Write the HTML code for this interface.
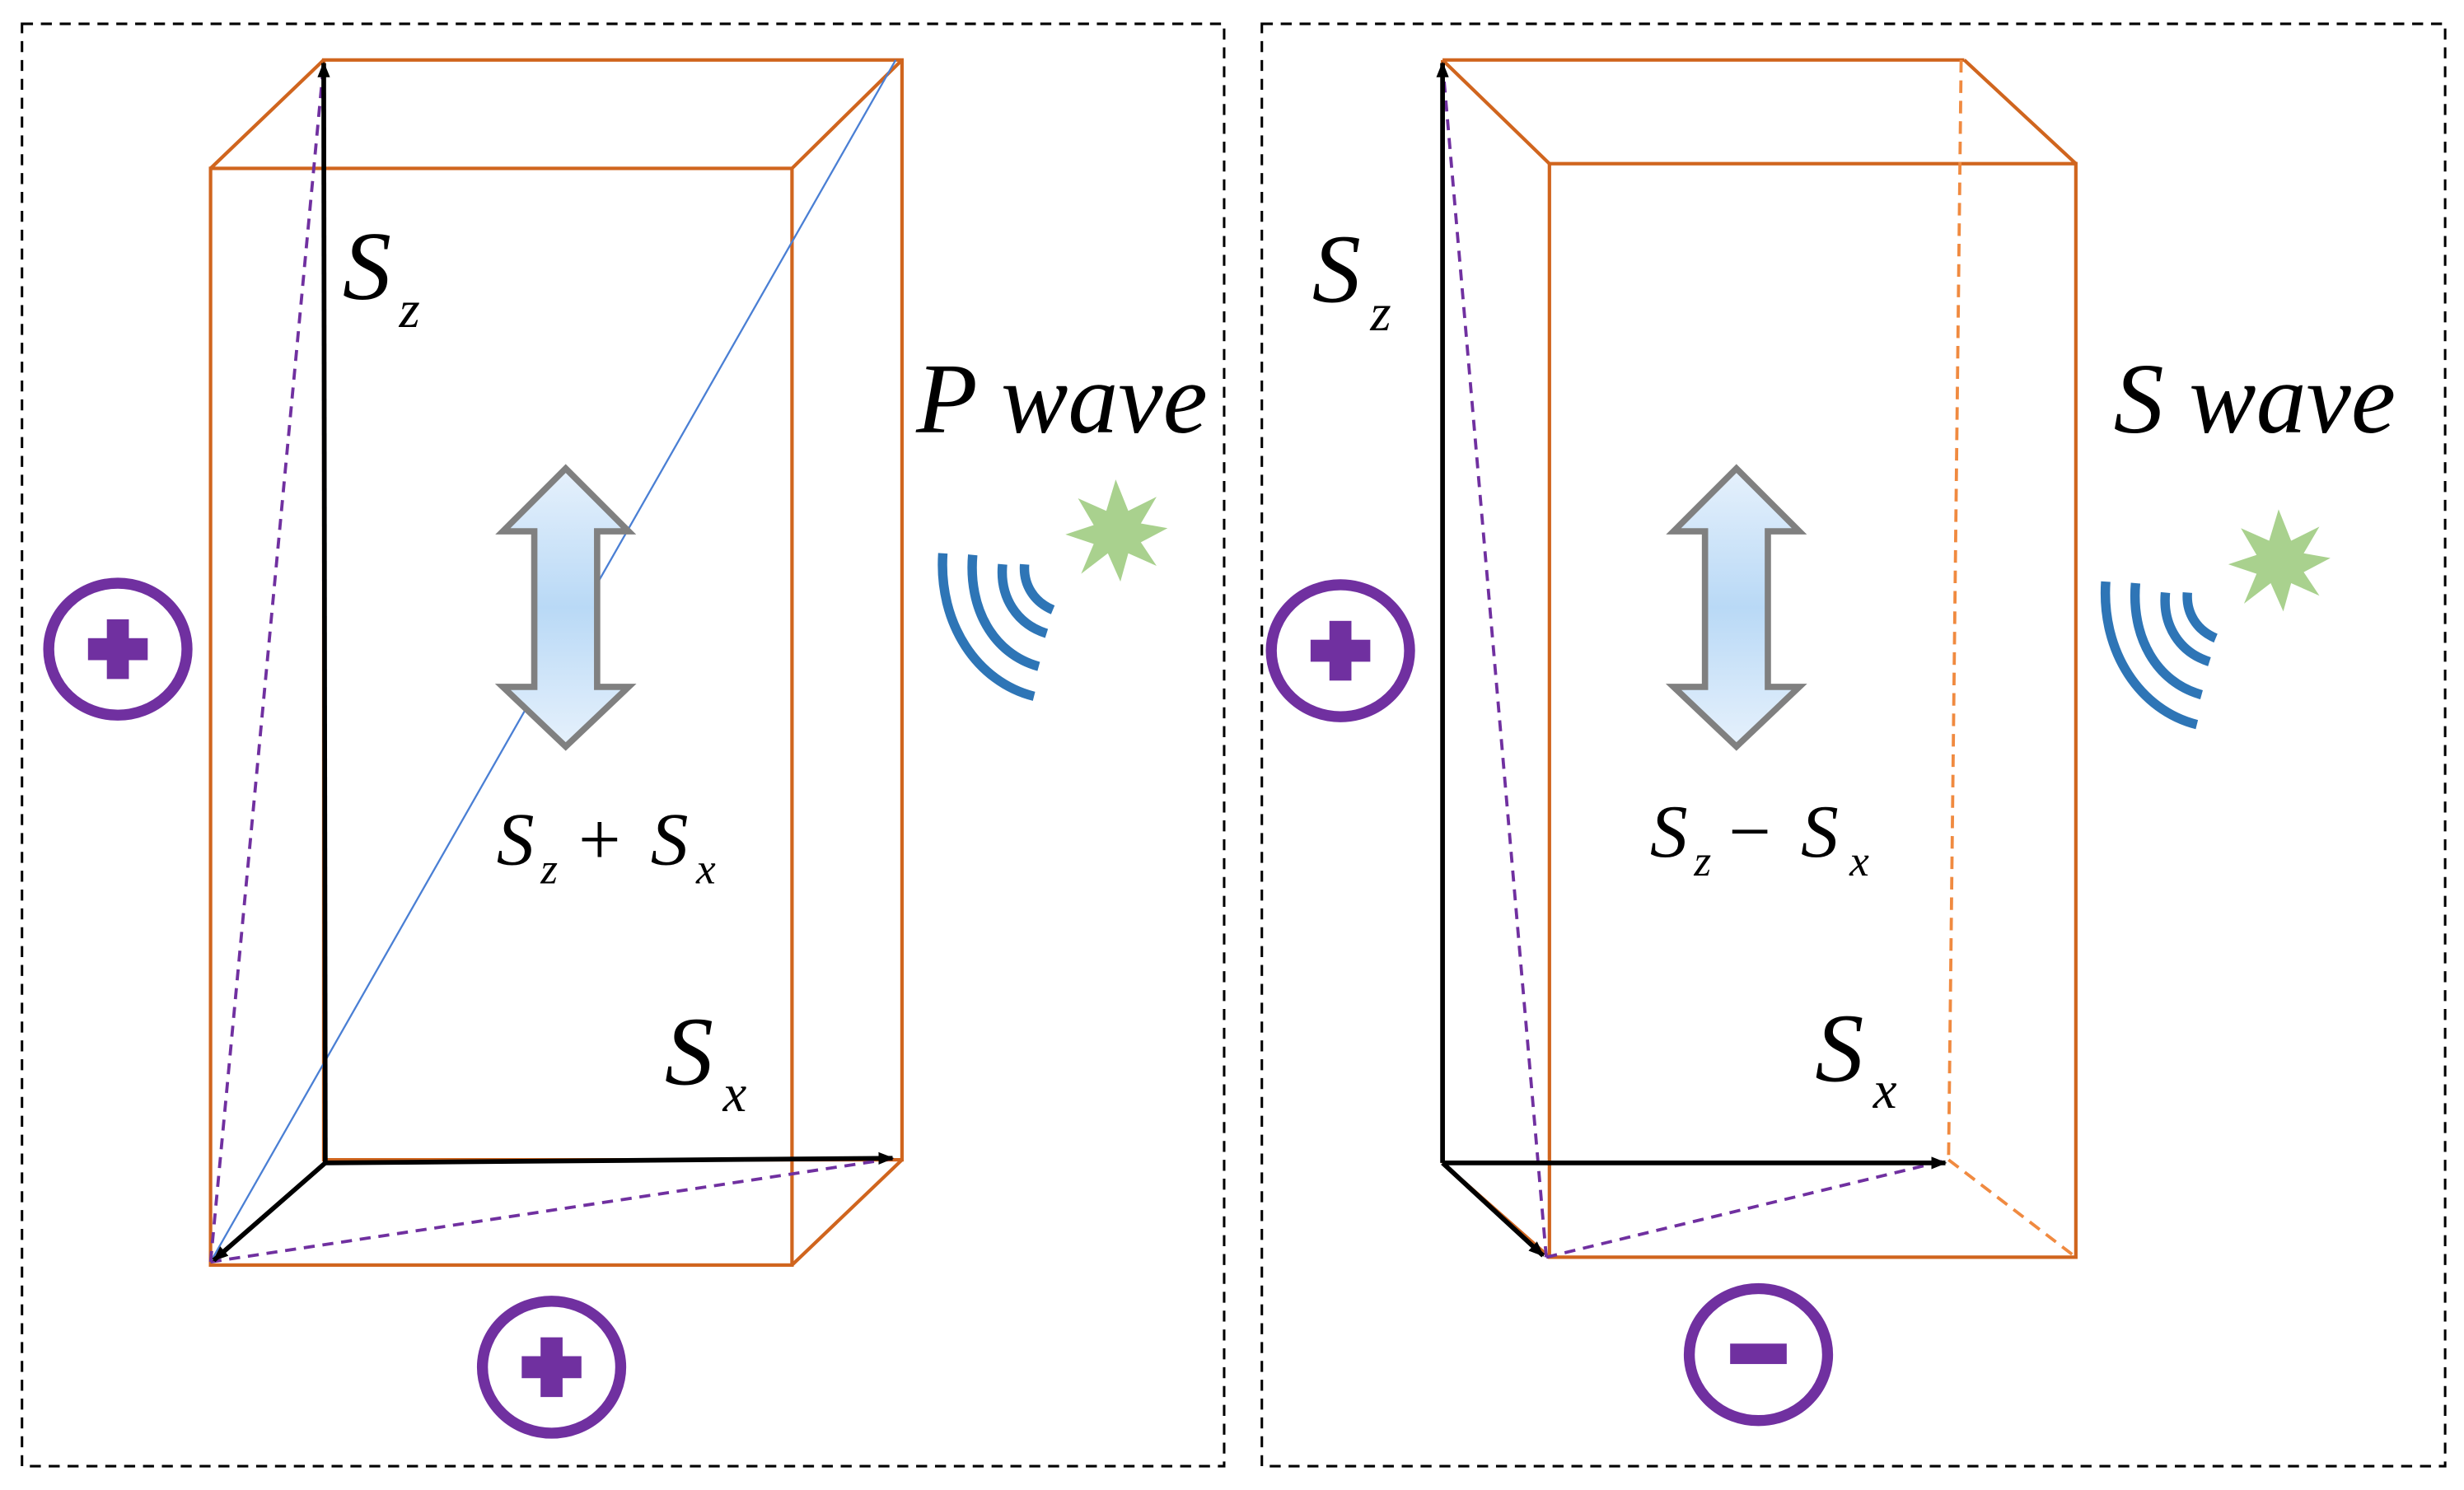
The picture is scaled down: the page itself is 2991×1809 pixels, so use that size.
<!DOCTYPE html>
<html><head><meta charset="utf-8"><style>
html,body{margin:0;padding:0;background:#fff;}
svg{display:block;}
</style></head><body>
<svg width="2991" height="1809" viewBox="0 0 1568 948" xmlns="http://www.w3.org/2000/svg">
<defs>
<marker id="ah" markerWidth="10" markerHeight="8" refX="9" refY="4" orient="auto" markerUnits="userSpaceOnUse"><path d="M0,0 L10,4 L0,8 Z" fill="#000"/></marker>
<linearGradient id="g" x1="0" y1="0" x2="0" y2="1"><stop offset="0" stop-color="#e6f1fc"/><stop offset="0.5" stop-color="#b9d9f6"/><stop offset="1" stop-color="#e6f1fc"/></linearGradient>
<g id="dbl"><path d="M0,-89 L40,-49 L20,-49 L20,50 L40,50 L0,88 L-40,50 L-20,50 L-20,-49 L-40,-49 Z" fill="url(#g)" stroke="#808080" stroke-width="4" stroke-linejoin="miter"/></g>
<g id="waves" fill="none" stroke="#2e75b6" stroke-width="6">
<path d="M3,0 C0,45 25,82 61,91"/>
<path d="M22,1 C19,35 35,64 64,72"/>
<path d="M41,7 C39,28 50,45 69,51"/>
<path d="M55,7 C54,20 61,31 73,36"/>
</g>
<g id="star"><path d="M0,-33 L8,-13 L26,-22 L16,-5 L33,-2 L16,7 L26,22 L8,14 L3,32 L-5,14 L-22,27 L-14,8 L-32,2 L-14,-4 L-24,-21 L-6,-13 Z" fill="#a9d18e"/></g>
<g id="circ"><ellipse cx="0" cy="0" rx="44" ry="42" fill="none" stroke="#7030a0" stroke-width="7"/></g>
</defs>

<rect x="14" y="15" width="765" height="918" fill="none" stroke="#000" stroke-width="1.6" stroke-dasharray="7,5"/>
<rect x="803" y="15" width="753" height="918" fill="none" stroke="#000" stroke-width="1.6" stroke-dasharray="7,5"/>

<g fill="none" stroke="#d0651e" stroke-width="2.2">
<rect x="206" y="38" width="368" height="700"/>
<rect x="134" y="107" width="370" height="698"/>
<line x1="134" y1="107" x2="206" y2="38"/>
<line x1="504" y1="107" x2="574" y2="38"/>
<line x1="504" y1="805" x2="574" y2="738"/>
</g>
<line x1="134" y1="803" x2="570" y2="38" stroke="#4a7fd4" stroke-width="1.2"/>
<g stroke="#7030a0" stroke-width="2" stroke-dasharray="7,5" fill="none">
<line x1="134" y1="803" x2="206" y2="40"/>
<line x1="134" y1="803" x2="570" y2="737"/>
</g>
<g stroke="#000" stroke-width="3" fill="none">
<line x1="207" y1="740" x2="206" y2="40" marker-end="url(#ah)"/>
<line x1="207" y1="740" x2="568" y2="737" marker-end="url(#ah)"/>
<line x1="207" y1="740" x2="136" y2="802" marker-end="url(#ah)"/>
</g>
<use href="#dbl" x="360" y="387"/>

<g font-family="'Liberation Serif','DejaVu Serif',serif" font-style="italic" fill="#000">
<text x="218" y="190" font-size="62">S</text><text x="254" y="208" font-size="34">z</text>
<text x="583" y="275" font-size="64">P wave</text>
<text x="316" y="550" font-size="48">S</text><text x="344" y="562" font-size="28">z</text>
<text x="368" y="550" font-size="48" font-style="normal">+</text>
<text x="414" y="550" font-size="48">S</text><text x="443" y="562" font-size="28">x</text>
<text x="423" y="690" font-size="62">S</text><text x="460" y="707" font-size="34">x</text>

<text x="835" y="192" font-size="62">S</text><text x="872" y="210" font-size="34">z</text>
<text x="1345" y="275" font-size="64">S wave</text>
<text x="1050" y="545" font-size="48">S</text><text x="1078" y="557" font-size="28">z</text>
<text x="1100" y="545" font-size="48" font-style="normal">−</text>
<text x="1146" y="545" font-size="48">S</text><text x="1177" y="557" font-size="28">x</text>
<text x="1155" y="688" font-size="62">S</text><text x="1192" y="705" font-size="34">x</text>
</g>

<use href="#circ" x="75" y="413"/>
<rect x="56" y="406" width="38" height="14" fill="#7030a0"/><rect x="68" y="394" width="14" height="38" fill="#7030a0"/>
<use href="#circ" x="351" y="870"/>
<rect x="332" y="863" width="38" height="14" fill="#7030a0"/><rect x="344" y="851" width="14" height="38" fill="#7030a0"/>
<use href="#waves" x="597" y="352"/>
<use href="#star" x="710" y="338"/>

<g fill="none" stroke="#d0651e" stroke-width="2.2">
<line x1="918" y1="38" x2="1250" y2="38"/>
<line x1="918" y1="38" x2="918" y2="740"/>
<rect x="986" y="104" width="335" height="696"/>
<line x1="918" y1="38" x2="986" y2="104"/>
<line x1="1250" y1="38" x2="1321" y2="104"/>
<line x1="918" y1="740" x2="986" y2="800"/>
</g>
<g fill="none" stroke="#f08a40" stroke-width="2" stroke-dasharray="8,5">
<line x1="1248" y1="38" x2="1240" y2="738"/>
<line x1="1240" y1="738" x2="1321" y2="800"/>
</g>
<g stroke="#7030a0" stroke-width="2" stroke-dasharray="7,5" fill="none">
<line x1="984" y1="800" x2="918" y2="40"/>
<line x1="984" y1="800" x2="1240" y2="738"/>
</g>
<g stroke="#000" stroke-width="3" fill="none">
<line x1="918" y1="740" x2="918" y2="40" marker-end="url(#ah)"/>
<line x1="918" y1="740" x2="1238" y2="740" marker-end="url(#ah)"/>
<line x1="918" y1="740" x2="982" y2="799" marker-end="url(#ah)"/>
</g>
<use href="#dbl" x="1105" y="387"/>
<use href="#circ" x="853" y="414"/>
<rect x="834" y="407" width="38" height="14" fill="#7030a0"/><rect x="846" y="395" width="14" height="38" fill="#7030a0"/>
<use href="#circ" x="1119" y="862"/>
<rect x="1101" y="855" width="36" height="13" fill="#7030a0"/>
<use href="#waves" x="1337" y="370"/>
<use href="#star" x="1450" y="357"/>
</svg>
</body></html>
